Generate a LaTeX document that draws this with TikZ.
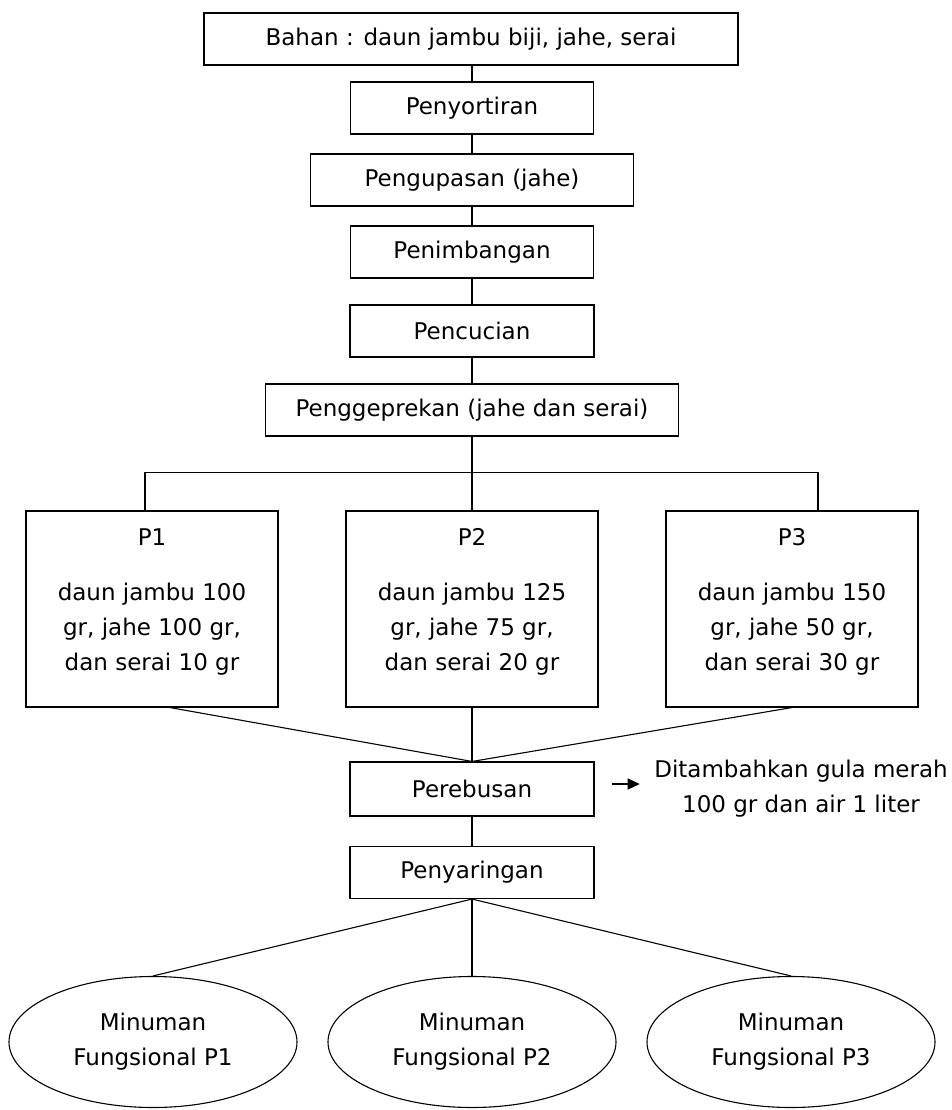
\documentclass[tikz,border=0pt]{standalone}
\usepackage{fontspec}
\setmainfont{DejaVu Sans}
\usepackage{tikz}
\usetikzlibrary{shapes.geometric, arrows.meta}
\tikzstyle{process} = [rectangle, minimum height=52pt, text centered, draw=black]
\tikzstyle{sample} = [rectangle, minimum width=252pt, minimum height=196pt, align=center, draw=black]
\tikzstyle{product} = [ellipse, minimum width=288pt, minimum height=131pt, inner sep=0pt, align=center, draw=black]
\tikzstyle{arrow} = [->,>={Triangle[length=12pt,width=11pt]}]
\tikzstyle{line} = [-]

\begin{document}
\begin{tikzpicture}[node distance=72pt, line width=1.1pt,
  every node/.style={font=\fontsize{23pt}{35pt}\selectfont}]
  \useasboundingbox (0,0) rectangle (952pt,-1110pt);

  \node (bahan) [process, minimum width=534pt] at (471pt,-39pt) {Bahan : daun jambu biji, jahe, serai};
  \node (sortir) [process, minimum width=243pt, below of=bahan, yshift=3pt, xshift=1pt] {Penyortiran};
  \node (kupas) [process, minimum width=323pt, below of=sortir] {Pengupasan (jahe)};
  \node (timbang) [process, minimum width=243pt, below of=kupas] {Penimbangan};
  \node (cuci) [process, minimum width=244pt, below of=timbang, yshift=-7pt] {Pencucian};
  \node (geprek) [process, minimum width=413pt, below of=cuci, yshift=-7pt] {Penggeprekan (jahe dan serai)};
  \node (p2) [sample, below of=geprek, yshift=-127pt] {P2\\[20pt]daun jambu 125\\gr, jahe 75 gr,\\dan serai 20 gr\\[-16pt]\mbox{}};
  \node (p1) [sample, left of=p2, xshift=-248pt] {P1\\[20pt]daun jambu 100\\gr, jahe 100 gr,\\dan serai 10 gr\\[-16pt]\mbox{}};
  \node (p3) [sample, right of=p2, xshift=248pt] {P3\\[20pt]daun jambu 150\\gr, jahe 50 gr,\\dan serai 30 gr\\[-16pt]\mbox{}};
  \node (rebus) [process, minimum width=244pt, minimum height=54pt, below of=p2, yshift=-108pt] {Perebusan};
  \node (tambah) [align=center, inner xsep=14pt, right of=rebus, xshift=257pt] {Ditambahkan gula merah\\100 gr dan air 1 liter};
  \node (saring) [process, minimum width=244pt, below of=rebus, yshift=-11.5pt] {Penyaringan};
  \node (h2) [product, below of=saring, yshift=-97.5pt] {Minuman\\Fungsional P2};
  \node (h1) [product, left of=h2, xshift=-247pt] {Minuman\\Fungsional P1};
  \node (h3) [product, right of=h2, xshift=247pt] {Minuman\\Fungsional P3};

  \draw [line] (bahan.south -| sortir) -- (sortir);
  \draw [line] (sortir) -- (kupas);
  \draw [line] (kupas) -- (timbang);
  \draw [line] (timbang) -- (cuci);
  \draw [line] (cuci) -- (geprek);
  \draw [line] (geprek) -- (p2);
  \coordinate (split) at ([yshift=-36pt]geprek.south);
  \draw [line] ([xshift=-7pt]p1.north) |- (split) -| ([xshift=26pt]p3.north);

  \draw [line] ([xshift=18pt]p1.south) -- (rebus.north);
  \draw [line] (p2.south) -- (rebus.north);
  \draw [line] (p3.south) -- (rebus.north);
  \draw [line] (rebus) -- (saring);
  \draw [arrow] ([xshift=17pt,yshift=5pt]rebus.east) -- ([yshift=5pt]tambah.west);

  \draw [line] (saring.south) -- (h1.north);
  \draw [line] (saring.south) -- (h2.north);
  \draw [line] (saring.south) -- (h3.north);

\end{tikzpicture}
\end{document}
